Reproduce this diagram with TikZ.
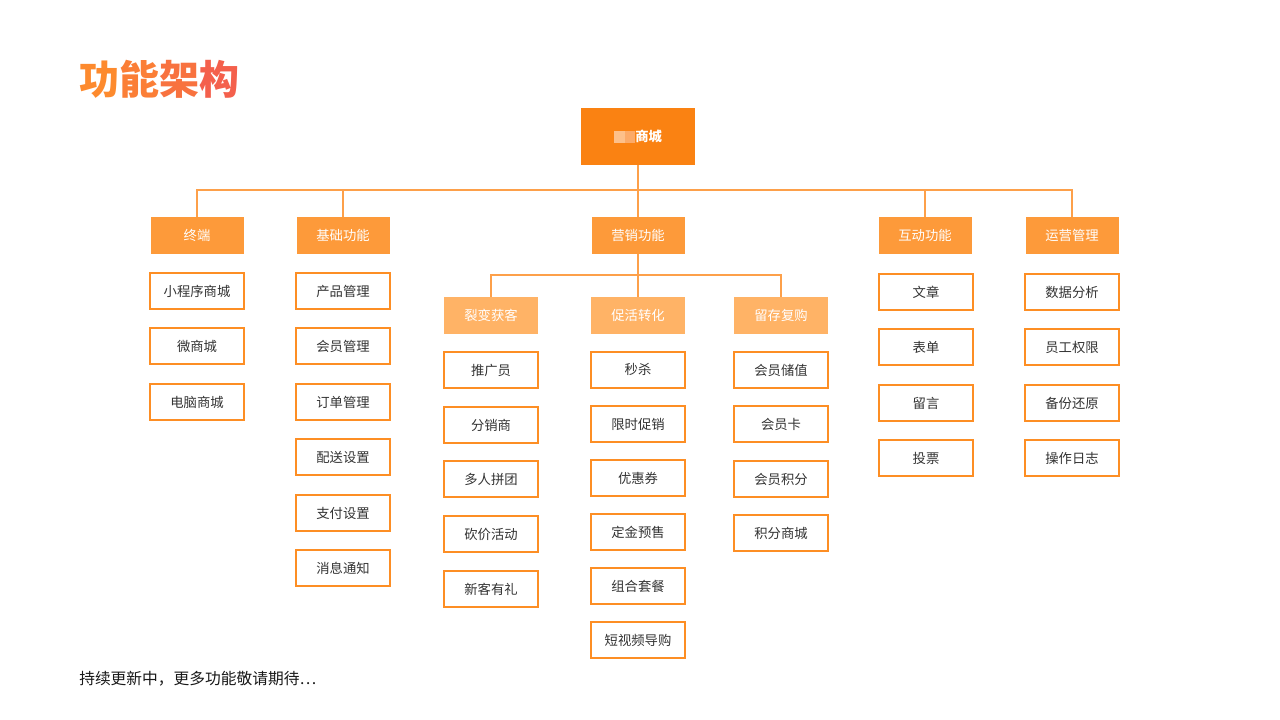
\documentclass[tikz,border=0pt]{standalone}
\usepackage{fontspec}
\setmainfont{Noto Sans CJK SC}
\definecolor{topc}{HTML}{FA8212}
\definecolor{lvone}{HTML}{FD9A3A}
\definecolor{lvtwo}{HTML}{FFB366}
\definecolor{bord}{HTML}{FD8E24}
\definecolor{linec}{HTML}{FDA04A}
\definecolor{txt}{HTML}{333333}
\definecolor{ttla}{HTML}{FD8A2E}
\definecolor{ttlb}{HTML}{FB7E36}
\definecolor{ttlc}{HTML}{F8723F}
\definecolor{ttld}{HTML}{F4604C}
\definecolor{pha}{HTML}{FDC08A}
\definecolor{phb}{HTML}{FCAA68}
\begin{document}
\begin{tikzpicture}[x=0.75pt,y=-0.75pt,
  topbox/.style={fill=topc,text=white,minimum width=85.5pt,minimum height=42.75pt,inner sep=0pt,font=\fontsize{10}{12}\selectfont\bfseries},
  catbox/.style={fill=lvone,text=white,minimum width=69.75pt,minimum height=27.75pt,inner sep=0pt,font=\fontsize{10}{12}\selectfont},
  subbox/.style={fill=lvtwo,text=white,minimum width=70.5pt,minimum height=27.75pt,inner sep=0pt,font=\fontsize{10}{12}\selectfont},
  leaf/.style={draw=bord,line width=1.5pt,fill=white,text=txt,minimum width=70.5pt,minimum height=27pt,inner sep=0pt,font=\fontsize{10}{12}\selectfont},
  conn/.style={draw=linec,line width=1.2pt}]
\useasboundingbox (0,0) rectangle (1280,720);
\fill[white] (0,0) rectangle (1280,720);
% title
\node[anchor=west,inner sep=0pt,font=\fontsize{30}{35}\selectfont\bfseries] (title) at (79,79)
  {\textcolor{ttla}{功}\textcolor{ttlb}{能}\textcolor{ttlc}{架}\textcolor{ttld}{构}};
% top
\node[topbox] (top) at (638,136.5) {\textcolor{pha}{\rule[-1pt]{8pt}{9pt}}\textcolor{phb}{\rule[-1pt]{8pt}{9pt}}商城};
% level one
\node[catbox] (c1) at (197,235.5) {终端};
\node[catbox] (c2) at (343,235.5) {基础功能};
\node[catbox] (c3) at (638,235.5) {营销功能};
\node[catbox] (c4) at (925,235.5) {互动功能};
\node[catbox] (c5) at (1072,235.5) {运营管理};
% level two
\node[subbox] (s1) at (491,315.5) {裂变获客};
\node[subbox] (s2) at (638,315.5) {促活转化};
\node[subbox] (s3) at (781,315.5) {留存复购};
% connectors
\coordinate (bus) at (638,190);
\draw[conn] (top.south) -- (bus);
\foreach \n in {c1,c2,c3,c4,c5} \draw[conn] (bus) -| (\n.north);
\coordinate (sbus) at (638,275);
\draw[conn] (c3.south) -- (sbus);
\foreach \n in {s1,s2,s3} \draw[conn] (sbus) -| (\n.north);
% leaves: 终端
\node[leaf] (a1) at (197,291) {小程序商城};
\node[leaf] (a2) at (197,346) {微商城};
\node[leaf] (a3) at (197,402) {电脑商城};
% 基础功能
\node[leaf] (b1) at (343,291) {产品管理};
\node[leaf] (b2) at (343,346) {会员管理};
\node[leaf] (b3) at (343,402) {订单管理};
\node[leaf] (b4) at (343,457) {配送设置};
\node[leaf] (b5) at (343,513) {支付设置};
\node[leaf] (b6) at (343,568) {消息通知};
% 裂变获客
\node[leaf] (d1) at (491,370) {推广员};
\node[leaf] (d2) at (491,425) {分销商};
\node[leaf] (d3) at (491,479) {多人拼团};
\node[leaf] (d4) at (491,534) {砍价活动};
\node[leaf] (d5) at (491,589) {新客有礼};
% 促活转化
\node[leaf] (e1) at (638,369.5) {秒杀};
\node[leaf] (e2) at (638,424) {限时促销};
\node[leaf] (e3) at (638,478) {优惠券};
\node[leaf] (e4) at (638,532) {定金预售};
\node[leaf] (e5) at (638,586) {组合套餐};
\node[leaf] (e6) at (638,640) {短视频导购};
% 留存复购
\node[leaf] (f1) at (781,370) {会员储值};
\node[leaf] (f2) at (781,424) {会员卡};
\node[leaf] (f3) at (781,479) {会员积分};
\node[leaf] (f4) at (781,533) {积分商城};
% 互动功能
\node[leaf] (g1) at (926,292) {文章};
\node[leaf] (g2) at (926,347) {表单};
\node[leaf] (g3) at (926,403) {留言};
\node[leaf] (g4) at (926,458) {投票};
% 运营管理
\node[leaf] (h1) at (1072,292) {数据分析};
\node[leaf] (h2) at (1072,347) {员工权限};
\node[leaf] (h3) at (1072,403) {备份还原};
\node[leaf] (h4) at (1072,458) {操作日志};
% footer
\node[anchor=west,inner sep=0pt,text=black!90,font=\fontsize{11.8}{14}\selectfont] (foot) at (79,679) {持续更新中，更多功能敬请期待…};
\end{tikzpicture}
\end{document}
